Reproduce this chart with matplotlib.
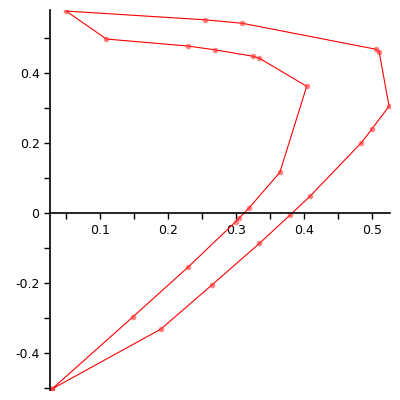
import matplotlib
matplotlib.use("Agg")
import matplotlib.pyplot as plt
import numpy as np

plt.rcParams['axes.unicode_minus'] = False

# points, in path order (closed loop)
x_vals = [0.029, 0.1485, 0.229, 0.299, 0.304, 0.319, 0.364, 0.4035, 0.334, 0.324,
          0.269, 0.229, 0.109, 0.0496, 0.254, 0.309, 0.505, 0.510, 0.5246, 0.499,
          0.484, 0.409, 0.379, 0.334, 0.264, 0.189, 0.029]
y_vals = [-0.502, -0.295, -0.154, -0.024, -0.014, 0.016, 0.117, 0.363, 0.443, 0.449,
          0.467, 0.478, 0.498, 0.578, 0.553, 0.543, 0.469, 0.462, 0.306, 0.240,
          0.202, 0.050, -0.005, -0.086, -0.205, -0.331, -0.502]

x_major = [0.1, 0.2, 0.3, 0.4, 0.5]
x_minor = [0.05, 0.15, 0.25, 0.35, 0.45]
y_major = [-0.4, -0.2, 0, 0.2, 0.4]
y_minor = [-0.5, -0.3, -0.1, 0.1, 0.3, 0.5]

fig = plt.figure(figsize=(4, 4), dpi=100)
ax = fig.add_axes([0.125, 0.025, 0.85, 0.95])

ax.plot(x_vals, y_vals, color='red', linewidth=0.8)
ax.plot(x_vals, y_vals, linestyle='none', marker='o', markersize=4,
        color='#ff3030', alpha=0.6, markeredgewidth=0)

ax.set_xlim(0.026, 0.526)
ax.set_ylim(-0.505, 0.581)

ax.spines['top'].set_visible(False)
ax.spines['right'].set_visible(False)
ax.spines['bottom'].set_position(('data', 0))
for s in ['left', 'bottom']:
    ax.spines[s].set_linewidth(1.2)

ax.set_xticks(x_major)
ax.set_xticks(x_minor, minor=True)
ax.set_yticks(y_major)
ax.set_yticks(y_minor, minor=True)
ax.set_xticklabels([f"{v:g}" for v in x_major])
ax.set_yticklabels([f"{v:g}" for v in y_major])
ax.tick_params(which='both', direction='out', length=4, width=1, labelsize=9)

fig.savefig('out.png', dpi=100)
